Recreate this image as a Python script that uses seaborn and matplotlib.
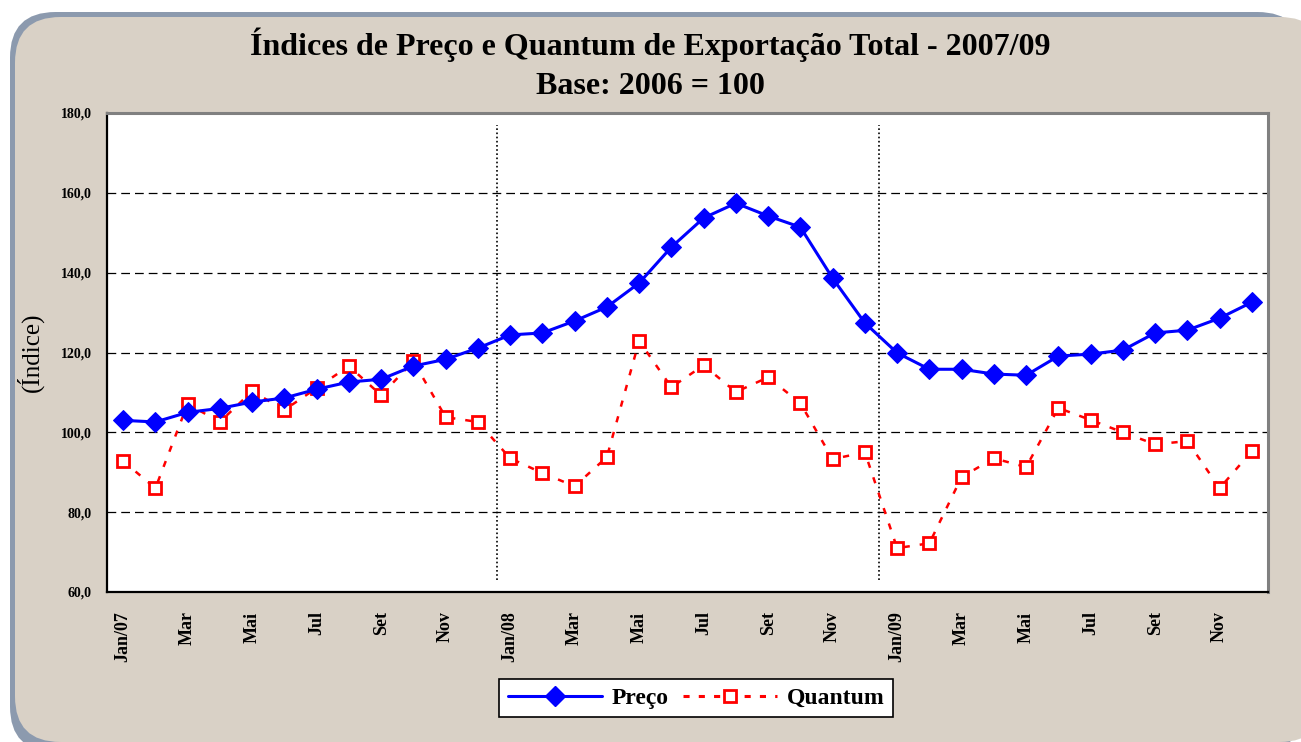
import numpy as np
import pandas as pd
import seaborn as sns
import matplotlib.pyplot as plt
from matplotlib.patches import FancyBboxPatch
from matplotlib.lines import Line2D

# monthly index values, Jan/07 .. Dez/09
preco = [103.0, 102.6, 105.0, 106.0, 107.6, 108.6, 110.8, 112.6, 113.3, 116.6, 118.3, 121.1,
         124.4, 124.9, 127.9, 131.4, 137.4, 146.4, 153.7, 157.4, 154.2, 151.4, 138.6, 127.4,
         119.9, 115.8, 115.8, 114.6, 114.3, 119.1, 119.6, 120.6, 124.9, 125.6, 128.6, 132.6]
quantum = [92.8, 86.0, 107.1, 102.6, 110.3, 105.6, 111.1, 116.6, 109.3, 117.8, 103.8, 102.6,
           93.5, 89.8, 86.5, 93.8, 122.9, 111.3, 116.8, 110.1, 113.8, 107.3, 93.3, 95.0,
           71.0, 72.2, 88.8, 93.5, 91.3, 106.1, 103.1, 100.0, 97.0, 97.8, 86.0, 95.3]
month_labels = ["Jan/07", "", "Mar", "", "Mai", "", "Jul", "", "Set", "", "Nov", "",
                "Jan/08", "", "Mar", "", "Mai", "", "Jul", "", "Set", "", "Nov", "",
                "Jan/09", "", "Mar", "", "Mai", "", "Jul", "", "Set", "", "Nov", ""]
y_ticks = [60, 80, 100, 120, 140, 160, 180]
year_breaks = [11.6, 23.45]

df = pd.DataFrame({"mes": np.arange(len(preco)), "Preço": preco, "Quantum": quantum})

sns.set_style("white")
plt.rcParams['font.family'] = ['Liberation Serif', 'DejaVu Serif']
plt.rcParams['text.color'] = 'black'
plt.rcParams['axes.labelcolor'] = 'black'
plt.rcParams['xtick.color'] = 'black'
plt.rcParams['ytick.color'] = 'black'

W, H = 1301, 742
fig = plt.figure(figsize=(W / 100, H / 100), dpi=100, facecolor="white")


def panel(x0, top, x1, bottom, color):
    # rounded box given in pixel coordinates measured from the top-left
    fig.patches.append(FancyBboxPatch((x0 / W, 1 - bottom / H), (x1 - x0) / W, (bottom - top) / H,
                                      boxstyle="round,pad=0,rounding_size=0.035",
                                      transform=fig.transFigure, facecolor=color, edgecolor="none",
                                      mutation_aspect=W / H, zorder=-10))


panel(10, 12, 1303, 752, "#8C9AAE")
panel(15, 17, 1325, 742, "#D9D1C6")

ax = fig.add_axes([107 / W, 1 - 592 / H, (1268 - 107) / W, (592 - 113) / H])
ax.set_facecolor("white")

sns.lineplot(data=df, x="mes", y="Preço", ax=ax, color="#0000FF", linewidth=2.2,
             marker="D", markersize=10, markeredgecolor="#0000FF", zorder=4)
sns.lineplot(data=df, x="mes", y="Quantum", ax=ax, color="#FF0000", linewidth=1.8,
             linestyle=(0, (2.5, 4)), marker="s", markersize=8, markerfacecolor="white",
             markeredgecolor="#FF0000", markeredgewidth=2, zorder=3)

for xb in year_breaks:
    ax.plot([xb, xb], [63, 177], color="black", linestyle=(0, (1, 1.5)), linewidth=1.2, zorder=2)

ax.set_xlim(-0.5, len(preco) - 0.5)
ax.set_ylim(60, 180)
ax.set_yticks(y_ticks)
ax.set_yticklabels([f"{v:.1f}".replace(".", ",") for v in y_ticks], fontweight="bold", fontsize=10)
for v in y_ticks[1:-1]:
    ax.axhline(v, color="black", linestyle=(0, (7, 4)), linewidth=0.9, zorder=1)

ax.set_xticks(df["mes"])
ax.set_xticklabels(month_labels, rotation=90, fontweight="bold", fontsize=13)
ax.set_xticks(np.arange(-0.5, len(preco)), minor=True)
ax.tick_params(axis="x", which="major", direction="in", length=5, width=1, pad=14)
ax.tick_params(axis="x", which="minor", direction="out", length=5, width=1)
ax.tick_params(axis="y", which="major", direction="out", length=5, width=1, pad=6)
ax.set_xlabel("")
ax.set_ylabel("(Índice)", fontsize=18, labelpad=12)

for side in ["left", "bottom"]:
    ax.spines[side].set_color("black")
    ax.spines[side].set_linewidth(1.6)
for side in ["top", "right"]:
    ax.spines[side].set_color("#808080")
    ax.spines[side].set_linewidth(2.2)

fig.text(0.5, 1 - 45 / H, "Índices de Preço e Quantum de Exportação Total - 2007/09",
         ha="center", va="center", fontsize=23, fontweight="bold")
fig.text(0.5, 1 - 86 / H, "Base: 2006 = 100", ha="center", va="center", fontsize=23, fontweight="bold")

handles = [Line2D([], [], color="#0000FF", linewidth=2.2, marker="D", markersize=10),
           Line2D([], [], color="#FF0000", linewidth=2.2, linestyle=(0, (2, 3)), marker="s",
                  markersize=8, markerfacecolor="white", markeredgecolor="#FF0000", markeredgewidth=2)]
leg = fig.legend(handles, ["Preço", "Quantum"], loc="center", bbox_to_anchor=(696 / W, 1 - 698 / H),
                 ncol=2, frameon=True, fancybox=False, edgecolor="black", framealpha=1,
                 prop={"weight": "bold", "size": 17}, handlelength=4, columnspacing=0.6,
                 handletextpad=0.4, borderpad=0.35)
leg.get_frame().set_linewidth(1.2)

fig.savefig("out.png", dpi=100, facecolor=fig.get_facecolor())
